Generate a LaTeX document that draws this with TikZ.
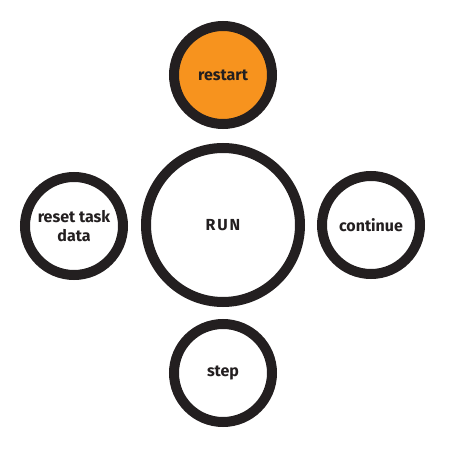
\documentclass[tikz,border=0pt]{standalone}
\usepackage{fontspec}
\setmainfont{Fira Sans}
\definecolor{ringblack}{HTML}{231F20}
\definecolor{runorange}{HTML}{F7931E}
\begin{document}
\begin{tikzpicture}[x=1pt,y=-1pt,
  ring/.style={circle,draw=ringblack,line width=10pt,fill=white,inner sep=0pt,
    align=center,font=\bfseries\fontsize{16}{18.5}\selectfont,text=ringblack},
  small/.style={ring,minimum size=98pt},
  big/.style={ring,minimum size=154pt}]
\useasboundingbox (0,0) rectangle (463,454);
\node[small,fill=runorange] (restart) at (223,75) {restart};
\node[big,font=\bfseries\fontsize{16}{18}\selectfont\addfontfeature{LetterSpace=12}] (run) at (223,225) {RUN};
\node[small] (reset) at (74,226) {reset task\\data};
\node[small] (continue) at (371,225) {continue};
\node[small] (step) at (223,373) {step};
\end{tikzpicture}
\end{document}
